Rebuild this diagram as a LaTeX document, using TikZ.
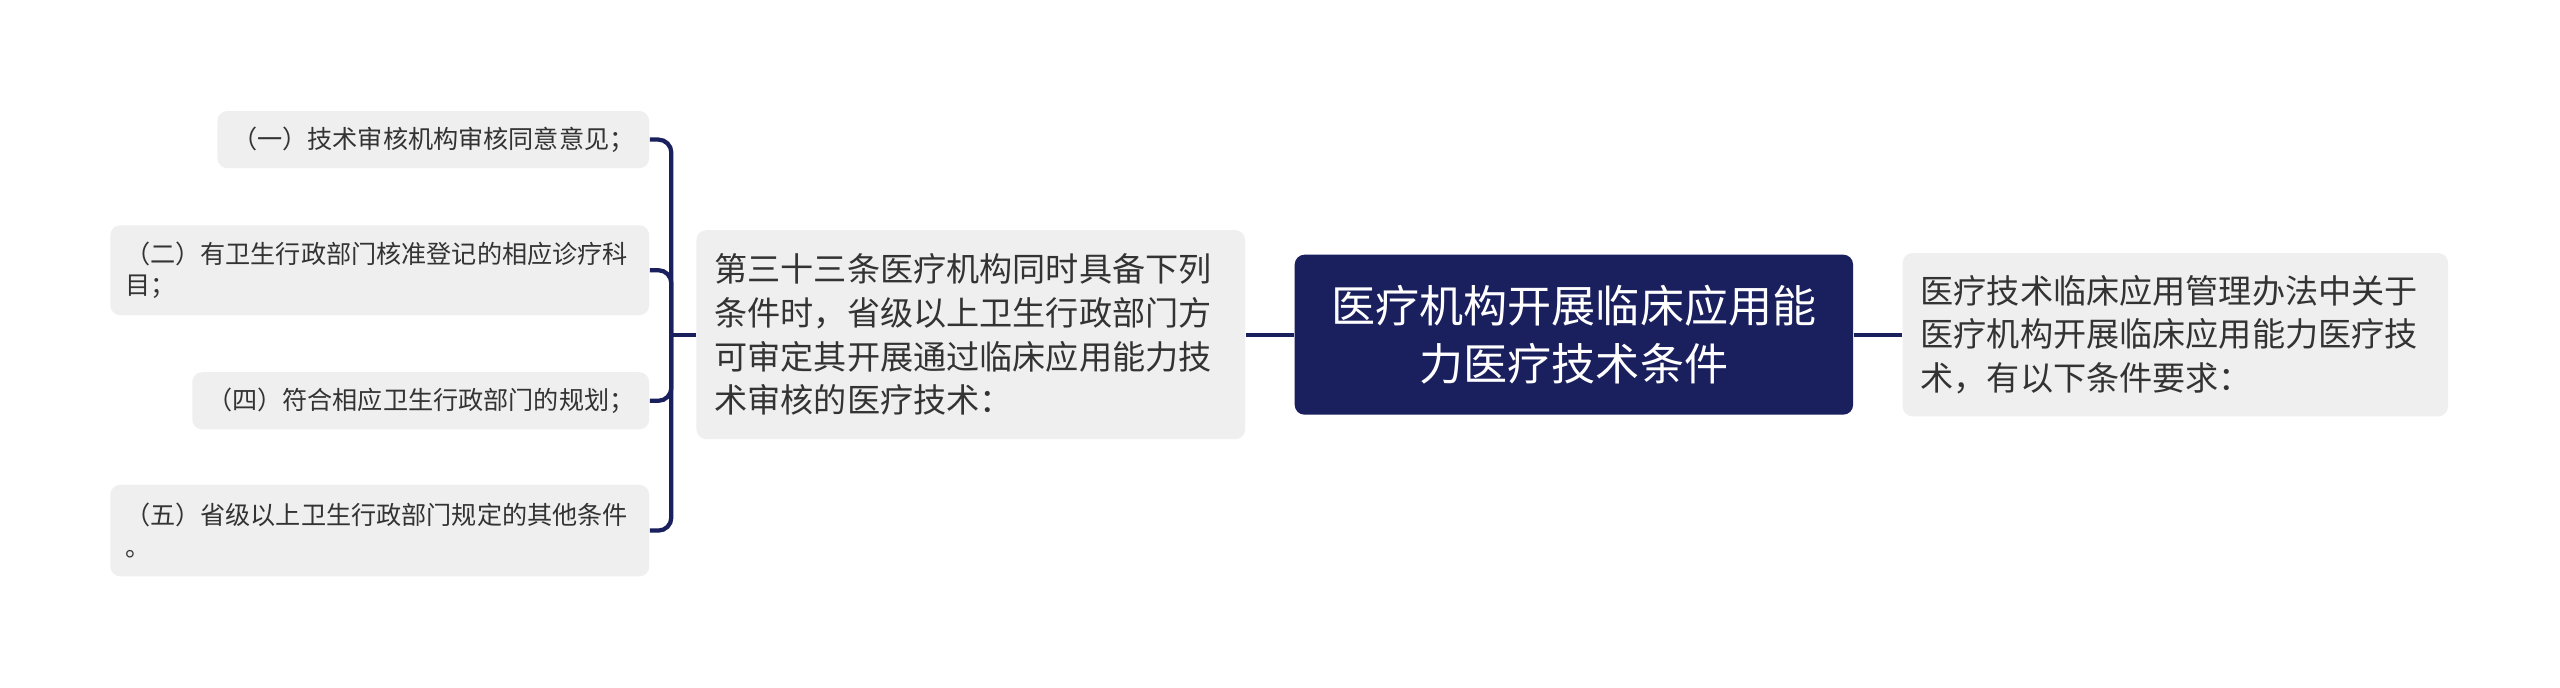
\documentclass[tikz,border=0pt]{standalone}
\usepackage{fontspec}
\newfontfamily\cjk{Noto Sans CJK SC}
\definecolor{navy}{RGB}{26,31,94}
\definecolor{boxgray}{RGB}{239,239,239}
\definecolor{txtgray}{RGB}{51,51,51}
\tikzset{
  rootbox/.style={fill=navy, text=white, rounded corners=3pt, align=center,
    minimum width=171pt, minimum height=49pt, font=\cjk\fontsize{13.5}{17.9}\selectfont},
  subbox/.style={fill=boxgray, text=txtgray, rounded corners=3pt, align=left,
    inner xsep=5.5pt, font=\cjk\fontsize{10.15}{13.4}\selectfont},
  leafbox/.style={fill=boxgray, text=txtgray, rounded corners=3pt, align=left,
    inner xsep=4.5pt, font=\cjk\fontsize{7.7}{9.6}\selectfont},
  link/.style={draw=navy, line width=1.3pt},
}
\begin{document}
\begin{tikzpicture}[x=0.5pt, y=-0.5pt]
            % 背景与边界
            \fill[white] (0,0) rectangle (1568,421.4);
            \useasboundingbox (0,0) rectangle (1568,421.4);

            % 中心主题
            \node[rootbox] (root) at (964,205) {医疗机构开展临床应用能\\力医疗技术条件};

            % 右侧说明
            \node[subbox, anchor=west, text width=156pt, minimum height=50pt] (intro) at (1165,205)
                {医疗技术临床应用管理办法中关于\\医疗机构开展临床应用能力医疗技\\术，有以下条件要求：};

            % 左侧条文
            \node[subbox, anchor=east, text width=157pt, minimum height=64pt] (art) at (763,205)
                {第三十三条医疗机构同时具备下列\\条件时，省级以上卫生行政部门方\\可审定其开展通过临床应用能力技\\术审核的医疗技术：};

            % 各项条件
            \node[leafbox, anchor=east, minimum height=17.5pt] (c1) at (398,85.5)
                {（一）技术审核机构审核同意意见；};
            \node[leafbox, anchor=east, text width=156pt, minimum height=27.5pt] (c2) at (398,165.5)
                {（二）有卫生行政部门核准登记的相应诊疗科\\目；};
            \node[leafbox, anchor=east, minimum height=17.5pt] (c3) at (398,245.5)
                {（四）符合相应卫生行政部门的规划；};
            \node[leafbox, anchor=east, text width=156pt, minimum height=28pt] (c4) at (398,325)
                {（五）省级以上卫生行政部门规定的其他条件\\。};

            % 连线
            \draw[link] (root.west) -- (art.east);
            \draw[link] (root.east) -- (intro.west);
            \draw[link] (art.west) -- ++(-15,0) coordinate (fork);
            \foreach \c in {c1,c2,c3,c4} {
                \draw[link, rounded corners=4pt] (fork) |- (\c.east);
            }
\end{tikzpicture}
\end{document}
